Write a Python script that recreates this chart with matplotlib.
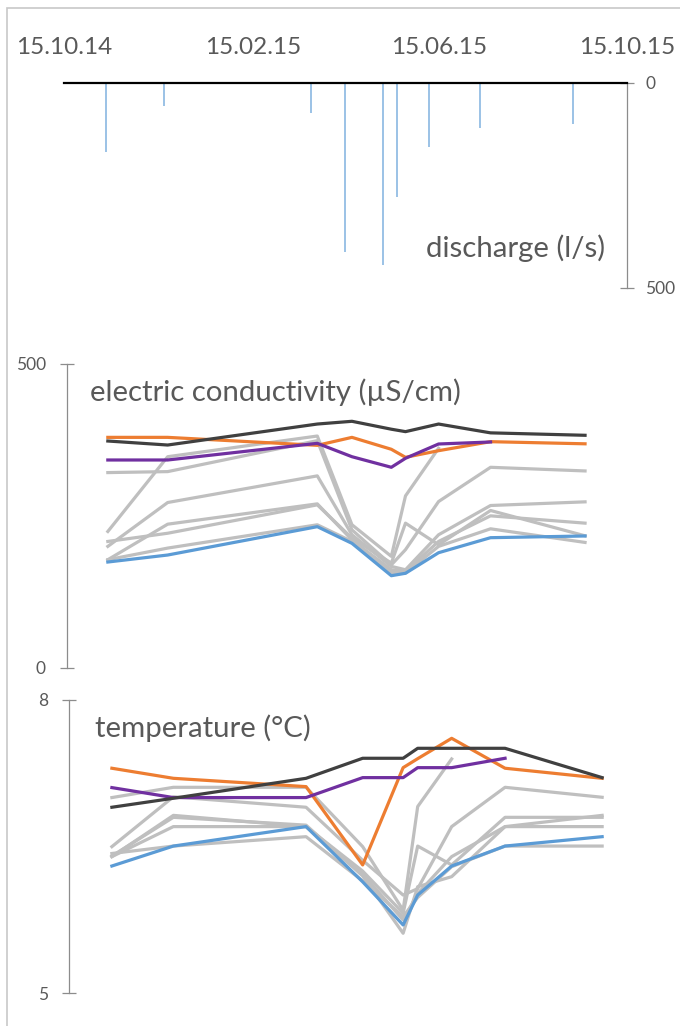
import datetime as dt
import numpy as np
import matplotlib
matplotlib.use("Agg")
import matplotlib.pyplot as plt
import matplotlib.dates as mdates
from matplotlib.patches import Rectangle

plt.rcParams['font.family'] = ['Lato', 'DejaVu Sans']

# ---------------------------------------------------------------- data
sample_dates = ["11.11.14", "19.12.14", "24.03.15", "15.04.15", "10.05.15",
                "19.05.15", "09.06.15", "12.07.15", "10.09.15"]
temp_dates = ["11.11.14", "19.12.14", "11.03.15", "15.04.15", "10.05.15",
              "19.05.15", "09.06.15", "12.07.15", "10.09.15"]
axis_dates = ["15.10.14", "15.02.15", "15.06.15", "15.10.15"]

discharge = [170, 58, 75, 412, 444, 278, 157, 110, 101]

nan = np.nan
# electric conductivity (µS/cm)
ec_grey = [
    [223.9, 346.8, 380.8, 235.0, 183.0, 282.4, 360.6, nan, nan],
    [320.7, 322.3, 373.2, 226.6, 169.0, 194.0, 273.1, 329.4, 323.4],
    [199.4, 271.5, 315.3, 218.5, 166.5, 161.0, 218.5, 266.6, 272.6],
    [207.5, 221.0, 267.7, 213.0, 172.0, 237.6, 202.0, 258.4, 216.8],
    [177.5, 235.9, 269.3, 210.0, 161.0, 158.5, 207.5, 249.6, 237.6],
    [177.5, 196.6, 234.9, 207.5, 156.7, 155.6, 199.4, 228.3, 205.9],
]
ec_blue = [173.7, 185.2, 231.8, 204.4, 151.2, 155.2, 189.0, 213.7, 216.5]
ec_orange = [378.6, 378.6, 365.5, 378.6, 359.0, 345.8, 356.7, 371.5, 368.0]
ec_purple = [341.4, 341.4, 368.8, 346.8, 329.4, 344.2, 367.7, 371.0, nan]
ec_black = [372.6, 366.0, 400.5, 405.0, 392.0, 388.0, 400.5, 386.0, 382.0]

# temperature (°C)
t_grey = [
    [7.002, 7.107, 7.107, 6.50, 5.85, 6.91, 7.397, nan, nan],
    [6.50, 7.01, 6.903, 6.36, 6.005, 6.07, 6.705, 7.107, 7.005],
    [6.398, 6.82, 6.705, 6.25, 5.82, 6.506, 6.313, 6.80, 6.80],
    [6.404, 6.80, 6.72, 6.20, 5.614, 6.09, 6.193, 6.705, 6.82],
    [6.398, 6.705, 6.705, 6.22, 5.75, 6.02, 6.398, 6.705, 6.705],
    [6.43, 6.506, 6.602, 6.15, 5.784, 5.98, 6.295, 6.506, 6.506],
]
t_blue = [6.302, 6.506, 6.705, 6.14, 5.699, 6.005, 6.302, 6.506, 6.602]
t_orange = [7.302, 7.199, 7.114, 6.313, 7.308, 7.40, 7.608, 7.302, 7.199]
t_purple = [7.104, 7.002, 7.002, 7.206, 7.206, 7.308, 7.308, 7.404, nan]
t_black = [6.903, 6.995, 7.199, 7.404, 7.404, 7.506, 7.506, 7.506, 7.206]

# ---------------------------------------------------------------- style
TEXT = '#595959'
AXIS = '#8c8c8c'
GREY = '#bfbfbf'
BLUE = '#5b9bd5'
ORANGE = '#ed7d31'
PURPLE = '#7030a0'
BLACK = '#404040'
BAR = '#9dc3e6'
LW = 2.3
TITLE_SIZE = 21.2
TICK_SIZE = 12.5

W, H = 680, 1026


def to_dates(labels):
    return [dt.datetime.strptime(s, "%d.%m.%y") for s in labels]


def rect(l, t, r, b):
    return [l / W, 1 - b / H, (r - l) / W, (b - t) / H]


def date_limits(left_px, right_px, origin_px, px_per_day):
    d0 = mdates.date2num(to_dates([axis_dates[0]])[0])
    return (d0 + (left_px - origin_px) / px_per_day,
            d0 + (right_px - origin_px) / px_per_day)


s_dates = to_dates(sample_dates)
tm_dates = to_dates(temp_dates)
ax_dates = to_dates(axis_dates)

fig = plt.figure(figsize=(W / 100, H / 100), dpi=100)
fig.patch.set_facecolor('white')

# outer chart border
fig.add_artist(Rectangle((7 / W, -0.1), 1.2, 1 - 8 / H + 0.1,
                         transform=fig.transFigure, fill=False,
                         ec='#c8c8c8', lw=1.2))

# ---------------------------------------------------------------- discharge
ax1 = fig.add_axes(rect(64, 82.5, 626.7, 287.7))
ax1.bar(s_dates, discharge, width=1.3, color=BAR, zorder=2)
ax1.set_xlim(mdates.date2num(ax_dates[0]), mdates.date2num(ax_dates[-1]))
ax1.set_ylim(500, 0)
ax1.xaxis.tick_top()
ax1.set_xticks(ax_dates)
ax1.xaxis.set_major_formatter(mdates.DateFormatter('%d.%m.%y'))
ax1.tick_params(axis='x', length=0, pad=18, labelsize=17.5, labelcolor=TEXT)
ax1.yaxis.tick_right()
ax1.set_yticks([0, 500])
ax1.tick_params(axis='y', direction='inout', length=10, width=0.9,
                color=AXIS, pad=8.5, labelsize=TICK_SIZE, labelcolor=TEXT)
for side in ('left', 'bottom'):
    ax1.spines[side].set_visible(False)
ax1.spines['top'].set_color('black')
ax1.spines['top'].set_linewidth(1.6)
ax1.spines['top'].set_zorder(3)
ax1.spines['right'].set_color(AXIS)
ax1.spines['right'].set_linewidth(0.9)
ax1.patch.set_alpha(0)
fig.text(605 / W, 1 - 257 / H, 'discharge (l/s)', ha='right', va='baseline',
         fontsize=TITLE_SIZE, color=TEXT)

# ---------------------------------------------------------------- panels


def line_panel(box, xlim, ylim, yticks, grey, blue, orange, purple, black,
               dates, title, title_xy):
    ax = fig.add_axes(box)
    for g in grey:
        ax.plot(dates, g, color=GREY, lw=LW)
    ax.plot(dates, blue, color=BLUE, lw=LW)
    ax.plot(dates, orange, color=ORANGE, lw=LW)
    ax.plot(dates, purple, color=PURPLE, lw=LW)
    ax.plot(dates, black, color=BLACK, lw=LW)
    ax.set_xlim(*xlim)
    ax.set_ylim(*ylim)
    ax.set_xticks([])
    ax.set_yticks(yticks)
    ax.tick_params(axis='y', direction='inout', length=10, width=0.9,
                   color=AXIS, pad=10, labelsize=TICK_SIZE, labelcolor=TEXT)
    for side in ('top', 'right', 'bottom'):
        ax.spines[side].set_visible(False)
    ax.spines['left'].set_color(AXIS)
    ax.spines['left'].set_linewidth(0.9)
    ax.patch.set_alpha(0)
    fig.text(title_xy[0] / W, 1 - title_xy[1] / H, title, ha='left',
             va='baseline', fontsize=TITLE_SIZE, color=TEXT)
    return ax


line_panel(rect(66.7, 363.5, 650, 667.7),
           date_limits(66.7, 650, 65.3, 1.575), (0, 500), [0, 500],
           ec_grey, ec_blue, ec_orange, ec_purple, ec_black, s_dates,
           'electric conductivity (µS/cm)', (90, 401))

line_panel(rect(69, 700, 660, 993.3),
           date_limits(69, 660, 68.2, 1.618), (5, 8), [5, 8],
           t_grey, t_blue, t_orange, t_purple, t_black, tm_dates,
           'temperature (°C)', (95, 737))

fig.savefig('out.png', dpi=100, facecolor='white')
